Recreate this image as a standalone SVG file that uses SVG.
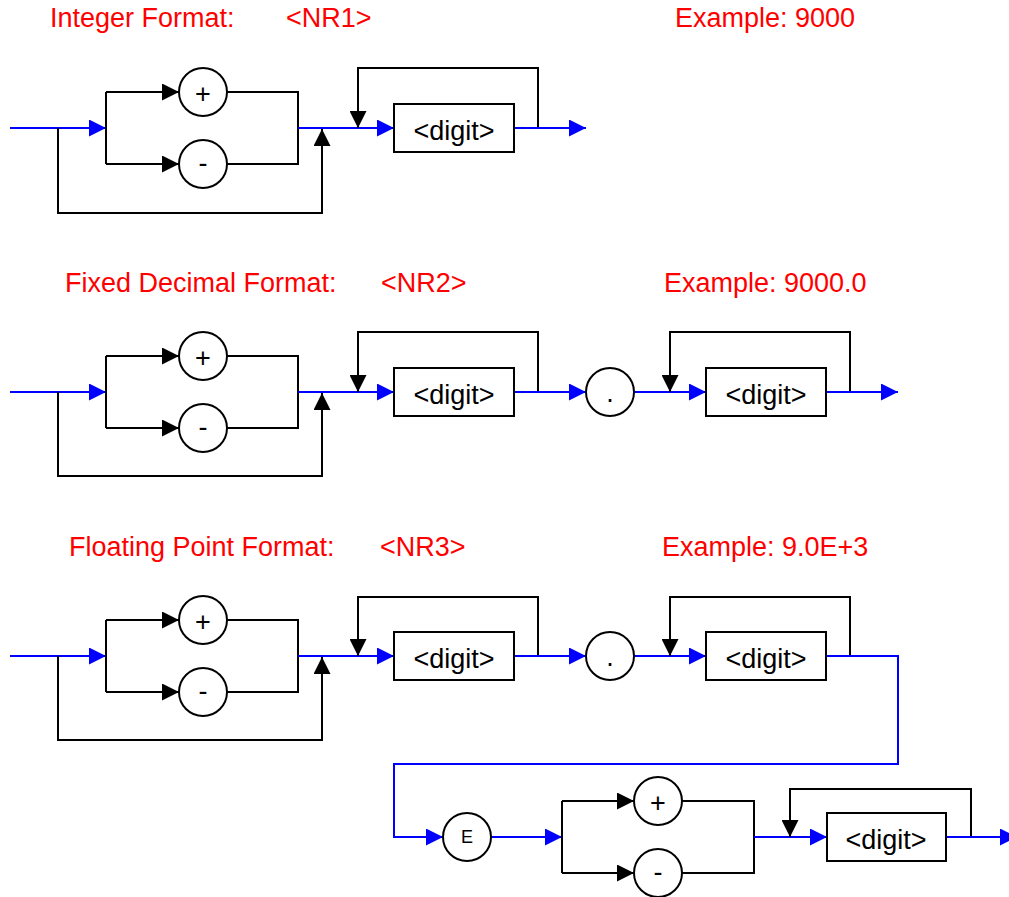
<svg xmlns="http://www.w3.org/2000/svg" width="1009" height="897" viewBox="0 0 1009 897">
<style>
.t{font-family:"Liberation Sans",Arial,sans-serif;font-size:27px;fill:#FF0000}
.l{font-family:"Liberation Sans",Arial,sans-serif;font-size:27px;fill:#000;text-anchor:middle}
.s{font-family:"Liberation Sans",Arial,sans-serif;font-size:18px;fill:#000;text-anchor:middle}
.b{fill:none;stroke:#0000FF;stroke-width:2}
.k{fill:none;stroke:#000;stroke-width:2}
.n{fill:#fff;stroke:#000;stroke-width:2}
</style>
<defs>
<marker id="ab" markerUnits="userSpaceOnUse" markerWidth="17" markerHeight="17" refX="17" refY="8.5" orient="auto" viewBox="0 0 17 17"><path d="M0,0 L17,8.5 L0,17 z" fill="#0000FF"/></marker>
<marker id="ak" markerUnits="userSpaceOnUse" markerWidth="17" markerHeight="17" refX="17" refY="8.5" orient="auto" viewBox="0 0 17 17"><path d="M0,0 L17,8.5 L0,17 z" fill="#000"/></marker>
</defs>
<g id="titles">
<text class="t" x="50" y="27">Integer Format:</text>
<text class="t" x="286" y="27">&lt;NR1&gt;</text>
<text class="t" x="675" y="27">Example: 9000</text>
<text class="t" x="65" y="292">Fixed Decimal Format:</text>
<text class="t" x="381" y="292">&lt;NR2&gt;</text>
<text class="t" x="664" y="292">Example: 9000.0</text>
<text class="t" x="69" y="556">Floating Point Format:</text>
<text class="t" x="380" y="556">&lt;NR3&gt;</text>
<text class="t" x="662" y="556">Example: 9.0E+3</text>
</g>
<g id="connectors">
<!-- Row 1 -->
<path class="b" d="M10,128 H106" marker-end="url(#ab)"/>
<path class="k" d="M106,92 V164"/>
<path class="k" d="M106,92 H179" marker-end="url(#ak)"/>
<path class="k" d="M106,164 H179" marker-end="url(#ak)"/>
<path class="k" d="M227,92 H298 V164 H227"/>
<path class="k" d="M58,128 V213 H322 V129" marker-end="url(#ak)"/>
<path class="b" d="M298,128 H394" marker-end="url(#ab)"/>
<path class="k" d="M538,128 V68 H358 V128" marker-end="url(#ak)"/>
<path class="b" d="M514,128 H586" marker-end="url(#ab)"/>
<!-- Row 2 -->
<path class="b" d="M10,392 H106" marker-end="url(#ab)"/>
<path class="k" d="M106,356 V428"/>
<path class="k" d="M106,356 H179" marker-end="url(#ak)"/>
<path class="k" d="M106,428 H179" marker-end="url(#ak)"/>
<path class="k" d="M227,356 H298 V428 H227"/>
<path class="k" d="M58,392 V476 H322 V393" marker-end="url(#ak)"/>
<path class="b" d="M298,392 H394" marker-end="url(#ab)"/>
<path class="k" d="M538,392 V332 H358 V392" marker-end="url(#ak)"/>
<path class="b" d="M514,392 H586" marker-end="url(#ab)"/>
<path class="b" d="M634,392 H706" marker-end="url(#ab)"/>
<path class="k" d="M850,392 V332 H670 V392" marker-end="url(#ak)"/>
<path class="b" d="M826,392 H898" marker-end="url(#ab)"/>
<!-- Row 3 -->
<path class="b" d="M10,656 H106" marker-end="url(#ab)"/>
<path class="k" d="M106,620 V692"/>
<path class="k" d="M106,620 H179" marker-end="url(#ak)"/>
<path class="k" d="M106,692 H179" marker-end="url(#ak)"/>
<path class="k" d="M227,620 H298 V692 H227"/>
<path class="k" d="M58,656 V740 H322 V657" marker-end="url(#ak)"/>
<path class="b" d="M298,656 H394" marker-end="url(#ab)"/>
<path class="k" d="M538,656 V597 H358 V656" marker-end="url(#ak)"/>
<path class="b" d="M514,656 H586" marker-end="url(#ab)"/>
<path class="b" d="M634,656 H706" marker-end="url(#ab)"/>
<path class="k" d="M850,656 V597 H670 V656" marker-end="url(#ak)"/>
<path class="b" d="M826,656 H898 V764 H394 V837 H443" marker-end="url(#ab)"/>
<path class="b" d="M491,837 H562" marker-end="url(#ab)"/>
<path class="k" d="M562,801 V873"/>
<path class="k" d="M562,801 H634" marker-end="url(#ak)"/>
<path class="k" d="M562,873 H634" marker-end="url(#ak)"/>
<path class="k" d="M682,801 H754 V873 H682"/>
<path class="b" d="M754,837 H827" marker-end="url(#ab)"/>
<path class="k" d="M971,837 V789 H790 V837" marker-end="url(#ak)"/>
<path class="b" d="M946,837 H1017" marker-end="url(#ab)"/>
</g>
<g id="r1-plus"><circle class="n" cx="203" cy="92" r="24"/><text class="l" x="203" y="103">+</text></g>
<g id="r1-minus"><circle class="n" cx="203" cy="164" r="24"/><text class="l" x="203" y="172">-</text></g>
<g id="r1-digit"><rect class="n" x="394" y="104" width="120" height="48"/><text class="l" x="454" y="140">&lt;digit&gt;</text></g>
<g id="r2-plus"><circle class="n" cx="203" cy="356" r="24"/><text class="l" x="203" y="367">+</text></g>
<g id="r2-minus"><circle class="n" cx="203" cy="428" r="24"/><text class="l" x="203" y="436">-</text></g>
<g id="r2-digit1"><rect class="n" x="394" y="368" width="120" height="48"/><text class="l" x="454" y="404">&lt;digit&gt;</text></g>
<g id="r2-dot"><circle class="n" cx="610" cy="392" r="24"/><text class="l" x="610" y="402">.</text></g>
<g id="r2-digit2"><rect class="n" x="706" y="368" width="120" height="48"/><text class="l" x="766" y="404">&lt;digit&gt;</text></g>
<g id="r3-plus"><circle class="n" cx="203" cy="620" r="24"/><text class="l" x="203" y="631">+</text></g>
<g id="r3-minus"><circle class="n" cx="203" cy="692" r="24"/><text class="l" x="203" y="700">-</text></g>
<g id="r3-digit1"><rect class="n" x="394" y="632" width="120" height="48"/><text class="l" x="454" y="668">&lt;digit&gt;</text></g>
<g id="r3-dot"><circle class="n" cx="610" cy="656" r="24"/><text class="l" x="610" y="666">.</text></g>
<g id="r3-digit2"><rect class="n" x="706" y="632" width="120" height="48"/><text class="l" x="766" y="668">&lt;digit&gt;</text></g>
<g id="r3-E"><circle class="n" cx="467" cy="837" r="24"/><text class="s" x="467" y="843">E</text></g>
<g id="r3-plus2"><circle class="n" cx="658" cy="801" r="24"/><text class="l" x="658" y="812">+</text></g>
<g id="r3-minus2"><circle class="n" cx="658" cy="873" r="24"/><text class="l" x="658" y="881">-</text></g>
<g id="r3-digit3"><rect class="n" x="827" y="813" width="119" height="48"/><text class="l" x="886" y="849">&lt;digit&gt;</text></g>
</svg>
